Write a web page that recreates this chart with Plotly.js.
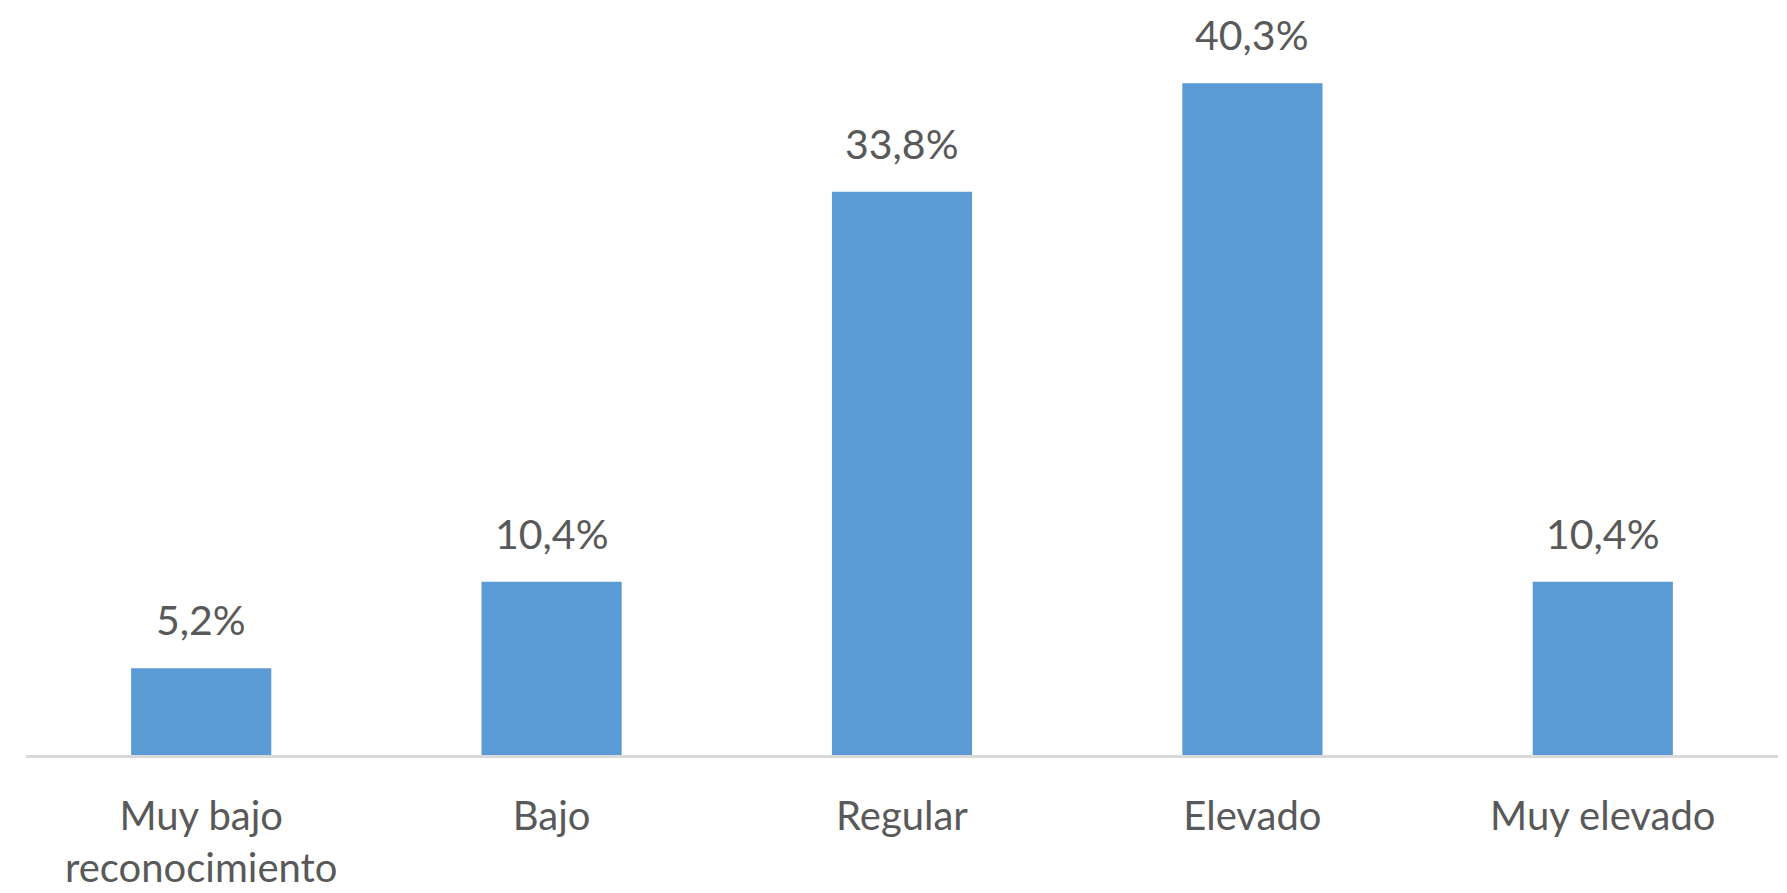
<!DOCTYPE html>
<html>
<head>
<meta charset="utf-8">
<script src="https://cdn.plot.ly/plotly-3.0.1.min.js"></script>
<style>html,body{margin:0;padding:0;background:#fff;}#chart{width:1787px;height:893px;}</style>
</head>
<body>
<div id="chart"></div>
<script>
const categories = ["Muy bajo<br>reconocimiento", "Bajo", "Regular", "Elevado", "Muy elevado"];
const values = [5.2, 10.4, 33.8, 40.3, 10.4];
const valueLabels = ["5,2%", "10,4%", "33,8%", "40,3%", "10,4%"];

const font = "Lato, 'Open Sans', sans-serif";
const textColor = "#595959";

const trace = {
  type: "bar",
  x: categories,
  y: values,
  marker: {color: "#5b9bd5"},
  hoverinfo: "none"
};

const annotations = categories.map((c, i) => ({
  x: c, y: values[i], text: valueLabels[i],
  xref: "x", yref: "y", showarrow: false,
  yanchor: "bottom", yshift: 22,
  font: {family: font, size: 41, color: textColor}
}));

const layout = {
  width: 1787, height: 893,
  margin: {l: 26, r: 9, t: 5, b: 138},
  paper_bgcolor: "#ffffff", plot_bgcolor: "#ffffff",
  bargap: 0.6,
  showlegend: false,
  xaxis: {
    type: "category",
    showline: true, linecolor: "#d9d9d9", linewidth: 3,
    ticks: "outside", ticklen: 24, tickcolor: "rgba(0,0,0,0)",
    tickfont: {family: font, size: 40, color: textColor},
    showgrid: false, zeroline: false, fixedrange: true
  },
  yaxis: {
    range: [0, 45], visible: false, showgrid: false, zeroline: false, fixedrange: true
  },
  annotations: annotations
};

Plotly.newPlot("chart", [trace], layout, {displayModeBar: false, staticPlot: true});
</script>
</body>
</html>
